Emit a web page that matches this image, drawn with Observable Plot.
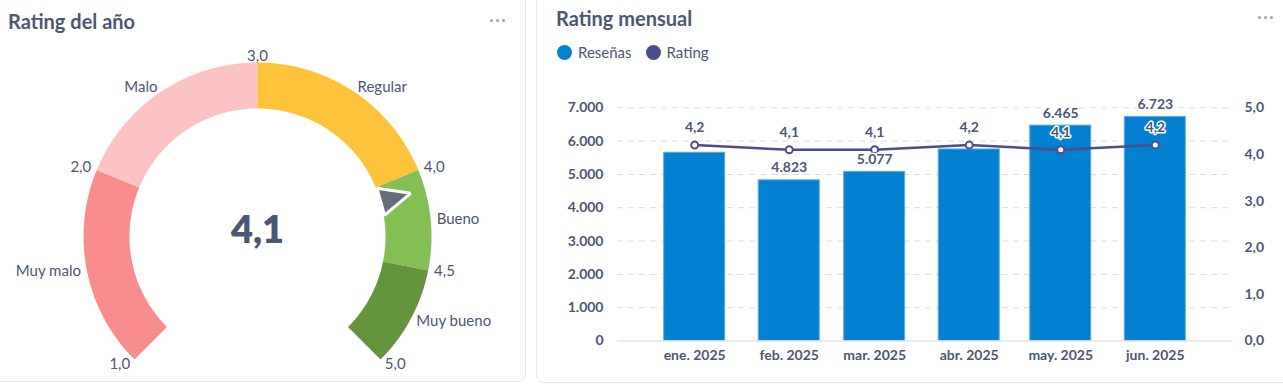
<!DOCTYPE html>
<html>
<head>
<meta charset="utf-8">
<script src="https://cdn.jsdelivr.net/npm/d3@7"></script>
<script src="https://cdn.jsdelivr.net/npm/@observablehq/plot@0.6"></script>
<style>
  body { margin: 0; background: #fff; font-family: Lato, "Noto Sans", sans-serif; color: #4c5773; }
  #root { position: relative; width: 1283px; height: 385px; overflow: hidden; background: #fff; }
  .card { position: absolute; box-sizing: border-box; border: 1px solid #e6e8ec; border-radius: 8px; background: #fff; }
  .title { position: absolute; font-size: 20px; font-weight: 700; color: #4c5773; line-height: 20px; white-space: nowrap; }
  .dots { position: absolute; display: flex; gap: 3px; }
  .dots span { width: 3px; height: 3px; border-radius: 50%; background: #9ea4b1; display: block; }
  .legend { position: absolute; left: 557px; top: 43px; display: flex; align-items: center; font-size: 15px; line-height: 18px; color: #4c5773; }
  .legend .item { display: flex; align-items: center; margin-right: 14px; }
  .legend .sw { width: 15px; height: 15px; border-radius: 50%; display: inline-block; margin-right: 6px; }
  #gauge { position: absolute; left: 0; top: 40px; }
  #bars { position: absolute; left: 540px; top: 95px; }
</style>
</head>
<body>
<div id="root">
  <div class="card" style="left:-10px;top:-10px;width:536px;height:392px"></div>
  <div class="card" style="left:536px;top:-10px;width:760px;height:393px"></div>
  <div class="title" style="left:8px;top:11px">Rating del año</div>
  <div class="title" style="left:556px;top:8px">Rating mensual</div>
  <div class="dots" style="left:490px;top:19px"><span></span><span></span><span></span></div>
  <div class="dots" style="left:1258px;top:16px"><span></span><span></span><span></span></div>
  <div class="legend" id="legend"></div>
  <div id="gauge"></div>
  <div id="bars"></div>
</div>
<script>
// ---------- DATA ----------
// Gauge ("Rating del año")
const bandLabels = ["Muy malo", "Malo", "Regular", "Bueno", "Muy bueno"];
const bandFrom   = [1, 2, 3, 4, 4.5];
const bandTo     = [2, 3, 4, 4.5, 5];
const bandColors = ["#f98d8e", "#fbc3c4", "#fec23b", "#84bf56", "#64953e"];
const gaugeTicks = [1, 2, 3, 4, 4.5, 5];
const yearRating = 4.1;

// Combo chart ("Rating mensual")
const months       = ["2025-01-01", "2025-02-01", "2025-03-01", "2025-04-01", "2025-05-01", "2025-06-01"];
const monthLabels  = ["ene. 2025", "feb. 2025", "mar. 2025", "abr. 2025", "may. 2025", "jun. 2025"];
const resenas      = [5650, 4823, 5077, 5750, 6465, 6723];
const ratingMensual = [4.2, 4.1, 4.1, 4.2, 4.1, 4.2];
const reviewTicks  = [0, 1000, 2000, 3000, 4000, 5000, 6000, 7000];
const ratingTicks  = [0, 1, 2, 3, 4, 5];
const seriesNames  = ["Reseñas", "Rating"];
const seriesColors = ["#0380d0", "#4b4e8c"];

// ---------- helpers ----------
const loc = d3.formatLocale({decimal: ",", thousands: ".", grouping: [3], currency: ["", "€"]});
const fmtInt = loc.format(",d");
const fmt1 = loc.format(".1f");
const TEXT = "#4c5773";

// ---------- Legend ----------
const legend = document.getElementById("legend");
seriesNames.forEach((n, i) => {
  const it = document.createElement("div");
  it.className = "item";
  it.innerHTML = `<span class="sw" style="background:${seriesColors[i]}"></span><span>${n}</span>`;
  legend.appendChild(it);
});

// ---------- Gauge ----------
{
  const W = 527, H = 345;
  const CX = 257, CY = 196;
  const R_OUT = 174, R_IN = 128, R_LABEL = 180, R_TIP = 159, HALF_BASE = 14;
  const angle = d3.scaleLinear([d3.min(bandFrom), d3.max(bandTo)], [-135, 135]);
  const rad = v => angle(v) * Math.PI / 180;
  const polar = (v, r) => ({x: r * Math.sin(rad(v)), y: r * Math.cos(rad(v))});

  const arcRows = [];
  bandLabels.forEach((name, i) => {
    const n = 60;
    for (let k = 0; k <= n; k++) {
      const v = bandFrom[i] + (bandTo[i] - bandFrom[i]) * k / n;
      arcRows.push({band: name, ...polar(v, R_OUT)});
    }
    for (let k = n; k >= 0; k--) {
      const v = bandFrom[i] + (bandTo[i] - bandFrom[i]) * k / n;
      arcRows.push({band: name, ...polar(v, R_IN)});
    }
  });

  const a = rad(yearRating);
  const tip = polar(yearRating, R_TIP), base = polar(yearRating, R_IN);
  const px = Math.cos(a), py = -Math.sin(a);
  const pointerRows = [
    tip,
    {x: base.x + px * HALF_BASE, y: base.y + py * HALF_BASE},
    {x: base.x - px * HALF_BASE, y: base.y - py * HALF_BASE}
  ];

  const labelRows = [
    ...gaugeTicks.map(v => ({text: fmt1(v), v, ...polar(v, R_LABEL)})),
    ...bandLabels.map((name, i) => {
      const v = (bandFrom[i] + bandTo[i]) / 2;
      return {text: name, v, ...polar(v, R_LABEL)};
    })
  ];
  const side = d => Math.sin(rad(d.v));
  const textOpts = {x: "x", y: "y", text: "text", fontSize: 15, fill: TEXT};

  const gauge = Plot.plot({
    width: W, height: H, margin: 0,
    style: {fontFamily: "Lato, sans-serif", background: "transparent"},
    x: {domain: [-CX, W - CX], range: [0, W], axis: null},
    y: {domain: [-(H - CY), CY], range: [H, 0], axis: null},
    color: {domain: bandLabels, range: bandColors},
    marks: [
      Plot.line(arcRows, {x: "x", y: "y", z: "band", fill: "band", stroke: "none", curve: "linear-closed"}),
      Plot.line(pointerRows, {x: "x", y: "y", fill: "#676c7b", stroke: "white", strokeWidth: 3, curve: "linear-closed", strokeLinejoin: "miter"}),
      Plot.text(labelRows.filter(d => side(d) < -0.05), {...textOpts, textAnchor: "end"}),
      Plot.text(labelRows.filter(d => side(d) > 0.05), {...textOpts, textAnchor: "start"}),
      Plot.text(labelRows.filter(d => Math.abs(side(d)) <= 0.05), {...textOpts, textAnchor: "middle"}),
      Plot.text([yearRating], {x: () => 0, y: () => 6, text: d => fmt1(d), fontSize: 38, fontWeight: 800, fill: TEXT})
    ]
  });
  document.getElementById("gauge").appendChild(gauge);
}

// ---------- Combo chart ----------
{
  const W = 743, H = 290;
  const yMax = d3.max(reviewTicks), rMax = d3.max(ratingTicks);
  const RATIO = yMax / rMax;
  const data = months.map((m, i) => ({
    date: new Date(m), label: monthLabels[i], resenas: resenas[i], rating: ratingMensual[i]
  }));
  const labelByTime = new Map(data.map(d => [+d.date, d.label]));
  const DAY = 864e5, PAD_DAYS = 25.3, HALF_BAR_DAYS = 10;
  const xDomain = [new Date(+data[0].date - PAD_DAYS * DAY), new Date(+data[data.length - 1].date + PAD_DAYS * DAY)];
  const CLEAR = 500;
  const barLabelData = data.filter(d => Math.abs(d.resenas - d.rating * RATIO) >= CLEAR);

  const chart = Plot.plot({
    width: W, height: H,
    marginLeft: 77, marginRight: 51, marginTop: 12.3, marginBottom: 44.5,
    style: {fontFamily: "Lato, sans-serif", background: "transparent", color: TEXT},
    x: {type: "utc", domain: xDomain, axis: null},
    y: {domain: [0, yMax], axis: null},
    marks: [
      Plot.gridY(reviewTicks.filter(t => t > 0), {stroke: "#d8dbe0", strokeOpacity: 1, strokeDasharray: "6,5"}),
      Plot.rectY(data, {
        x1: d => new Date(+d.date - HALF_BAR_DAYS * DAY),
        x2: d => new Date(+d.date + HALF_BAR_DAYS * DAY),
        y: "resenas", fill: seriesColors[0], stroke: "#5fabe3", strokeWidth: 1
      }),
      Plot.ruleY([0], {stroke: "#e2e4e8", strokeWidth: 1.5}),
      Plot.axisY(reviewTicks, {anchor: "left", tickSize: 0, tickPadding: 14, tickFormat: fmtInt, fontSize: 14, fontWeight: 700, color: TEXT, label: null}),
      Plot.axisY(ratingTicks.map(r => r * RATIO), {anchor: "right", tickSize: 0, tickPadding: 12, tickFormat: d => fmt1(d / RATIO), fontSize: 14, fontWeight: 700, color: TEXT, label: null}),
      Plot.axisX(data.map(d => d.date), {anchor: "bottom", tickSize: 0, tickPadding: 9, tickFormat: d => labelByTime.get(+d), fontSize: 14, fontWeight: 700, color: TEXT, label: null}),
      Plot.line(data, {x: "date", y: d => d.rating * RATIO, stroke: seriesColors[1], strokeWidth: 2.5}),
      Plot.dot(data, {x: "date", y: d => d.rating * RATIO, r: 3.5, fill: "white", stroke: seriesColors[1], strokeWidth: 2}),
      Plot.text(barLabelData, {x: "date", y: "resenas", text: d => fmtInt(d.resenas), dy: -12.6, fontSize: 14, fontWeight: 700, fill: TEXT, stroke: "white", strokeWidth: 3}),
      Plot.text(data, {x: "date", y: d => d.rating * RATIO, text: d => fmt1(d.rating), dy: -17.6, fontSize: 14, fontWeight: 700, fill: TEXT, stroke: "white", strokeWidth: 3})
    ]
  });
  document.getElementById("bars").appendChild(chart);
}
</script>
</body>
</html>
